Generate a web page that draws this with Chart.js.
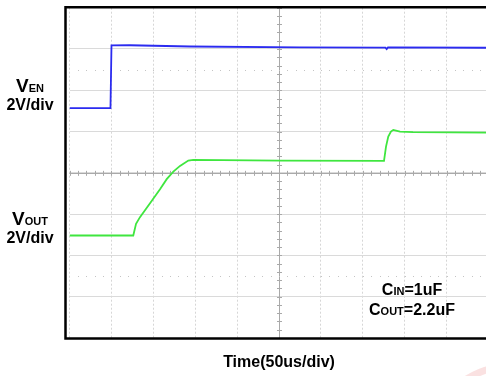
<!DOCTYPE html>
<html>
<head>
<meta charset="utf-8">
<script src="https://cdn.jsdelivr.net/npm/chart.js@4/dist/chart.umd.min.js"></script>
<style>
  html, body { margin: 0; padding: 0; background: #fff; overflow: hidden; }
  #wrap { width: 492px; height: 376px; position: relative; }
</style>
</head>
<body>
<div id="wrap"><canvas id="scope" width="492" height="376"></canvas></div>
<script>
// Time in microseconds (50 us per division), level in screen divisions (2 V per division).
const venTime  = [0, 48.9, 50.1, 72, 143.8, 275, 377, 378.5, 380, 497];
const venLevel = [1.567, 1.567, 3.087, 3.09, 3.06, 3.04, 3.035, 3.0, 3.04, 3.03];

const voutTime  = [0, 76.1, 79.4, 84.1, 96.1, 108, 116, 123.9, 131.9, 141.8, 147.7, 251.2, 375.3, 377.7, 380.4, 383.6, 386.4, 394.4, 409.9, 499.4];
const voutLevel = [-1.518, -1.518, -1.235, -1.073, -0.734, -0.395, -0.153, 0.031, 0.169, 0.298, 0.315, 0.298, 0.291, 0.637, 0.879, 1.0, 1.041, 1.0, 0.985, 0.976];

// Screen graticule: 10 x 8 divisions
const timeRange  = [0, 500];
const levelRange = [-4, 4];
const timePerDiv = 50;
const minorPerDiv = 5;

// Text
const channelNames = ['EN', 'OUT'];
const channelScale = '2V/div';
const timeTitle = 'Time(50us/div)';
const capLines = [['IN', '=1uF'], ['OUT', '=2.2uF']];

const FONT = '"Liberation Sans", Arial, sans-serif';

function toPoints(xs, ys) { return xs.map((x, i) => ({ x, y: ys[i] })); }

// Draws a "C"/"V" style symbol with a small subscript and trailing text, centred on cx.
function drawSymbol(ctx, cx, baseline, big, sub, tail, bigSize, subSize, tailSize) {
  ctx.font = 'bold ' + bigSize + 'px ' + FONT;
  const wb = ctx.measureText(big).width;
  ctx.font = 'bold ' + subSize + 'px ' + FONT;
  const ws = ctx.measureText(sub).width;
  ctx.font = 'bold ' + tailSize + 'px ' + FONT;
  const wt = tail ? ctx.measureText(tail).width : 0;
  let x = cx - (wb + ws + wt) / 2;
  ctx.textAlign = 'left';
  ctx.textBaseline = 'alphabetic';
  ctx.font = 'bold ' + bigSize + 'px ' + FONT;
  ctx.fillText(big, x, baseline); x += wb;
  ctx.font = 'bold ' + subSize + 'px ' + FONT;
  ctx.fillText(sub, x, baseline); x += ws;
  if (tail) {
    ctx.font = 'bold ' + tailSize + 'px ' + FONT;
    ctx.fillText(tail, x, baseline);
  }
}

const graticule = {
  id: 'graticule',
  beforeDatasetsDraw(chart) {
    const { ctx, chartArea: a, scales: { x, y } } = chart;
    const cx = x.getPixelForValue((timeRange[0] + timeRange[1]) / 2);
    const cy = y.getPixelForValue(0);
    ctx.save();
    ctx.strokeStyle = '#a9a9a9';
    ctx.lineWidth = 1;
    ctx.beginPath();
    ctx.moveTo(a.left, Math.round(cy) + 0.5); ctx.lineTo(a.right, Math.round(cy) + 0.5);
    ctx.moveTo(Math.round(cx) + 0.5, a.top); ctx.lineTo(Math.round(cx) + 0.5, a.bottom);
    // minor ticks along the centre axes
    const tStep = timePerDiv / minorPerDiv;
    for (let t = timeRange[0]; t <= timeRange[1]; t += tStep) {
      const px = Math.round(x.getPixelForValue(t)) + 0.5;
      ctx.moveTo(px, cy - 2); ctx.lineTo(px, cy + 3);
    }
    for (let v = levelRange[0]; v <= levelRange[1] + 1e-9; v += 1 / minorPerDiv) {
      const py = Math.round(y.getPixelForValue(v)) + 0.5;
      ctx.moveTo(cx - 2, py); ctx.lineTo(cx + 3, py);
    }
    ctx.stroke();
    // dotted rows halfway through the outer divisions
    ctx.fillStyle = '#c4c4c4';
    [2.5, -2.5].forEach(v => {
      const py = Math.round(y.getPixelForValue(v));
      for (let t = timeRange[0] + tStep; t < timeRange[1]; t += tStep) {
        ctx.fillRect(Math.round(x.getPixelForValue(t)), py, 1, 1);
      }
    });
    ctx.restore();
  },
  afterDraw(chart) {
    const { ctx, chartArea: a } = chart;
    ctx.save();
    // frame
    ctx.strokeStyle = '#000';
    ctx.lineWidth = 2.5;
    ctx.beginPath();
    ctx.moveTo(a.right + 10, a.top - 0.5);
    ctx.lineTo(a.left - 4, a.top - 0.5);
    ctx.lineTo(a.left - 4, a.bottom + 0.5);
    ctx.lineTo(a.right + 10, a.bottom + 0.5);
    ctx.stroke();

    ctx.fillStyle = '#000';
    // channel labels
    drawSymbol(ctx, 30, 92, 'V', channelNames[0], '', 19, 11, 16);
    ctx.font = 'bold 16px ' + FONT;
    ctx.textAlign = 'center';
    ctx.fillText(channelScale, 30, 110);
    drawSymbol(ctx, 30, 225, 'V', channelNames[1], '', 19, 11, 16);
    ctx.font = 'bold 16px ' + FONT;
    ctx.textAlign = 'center';
    ctx.fillText(channelScale, 30, 243);

    // capacitor note
    drawSymbol(ctx, 412, 295, 'C', capLines[0][0], capLines[0][1], 16, 11, 16);
    drawSymbol(ctx, 412, 315, 'C', capLines[1][0], capLines[1][1], 16, 11, 16);

    // time axis title
    ctx.font = 'bold 16px ' + FONT;
    ctx.textAlign = 'center';
    ctx.fillText(timeTitle, (a.left + a.right) / 2, 367);

    // faint logo swoosh in the corner
    ctx.strokeStyle = 'rgba(240,170,170,0.35)';
    ctx.lineWidth = 7;
    ctx.beginPath();
    ctx.ellipse(520, 420, 80, 55, 0, Math.PI * 1.05, Math.PI * 1.45);
    ctx.stroke();
    ctx.restore();
  }
};

new Chart(document.getElementById('scope'), {
  type: 'line',
  data: {
    datasets: [
      { label: 'VEN', data: toPoints(venTime, venLevel), borderColor: '#2b2bf0', borderWidth: 1.8, pointRadius: 0, tension: 0 },
      { label: 'VOUT', data: toPoints(voutTime, voutLevel), borderColor: '#3fe63f', borderWidth: 1.8, pointRadius: 0, tension: 0 }
    ]
  },
  options: {
    responsive: false,
    animation: false,
    devicePixelRatio: 1,
    layout: { padding: { left: 69.5, top: 7.7, right: 3.5, bottom: 38 } },
    plugins: { legend: { display: false }, tooltip: { enabled: false } },
    scales: {
      x: {
        type: 'linear', min: timeRange[0], max: timeRange[1],
        ticks: { display: false, stepSize: timePerDiv },
        grid: { color: '#d6d6d6', lineWidth: 1, drawTicks: false },
        border: { display: false, dash: [2, 2] }
      },
      y: {
        type: 'linear', min: levelRange[0], max: levelRange[1],
        ticks: { display: false, stepSize: 1 },
        grid: { color: '#dadada', lineWidth: 1, drawTicks: false },
        border: { display: false }
      }
    }
  },
  plugins: [graticule]
});
</script>
</body>
</html>
